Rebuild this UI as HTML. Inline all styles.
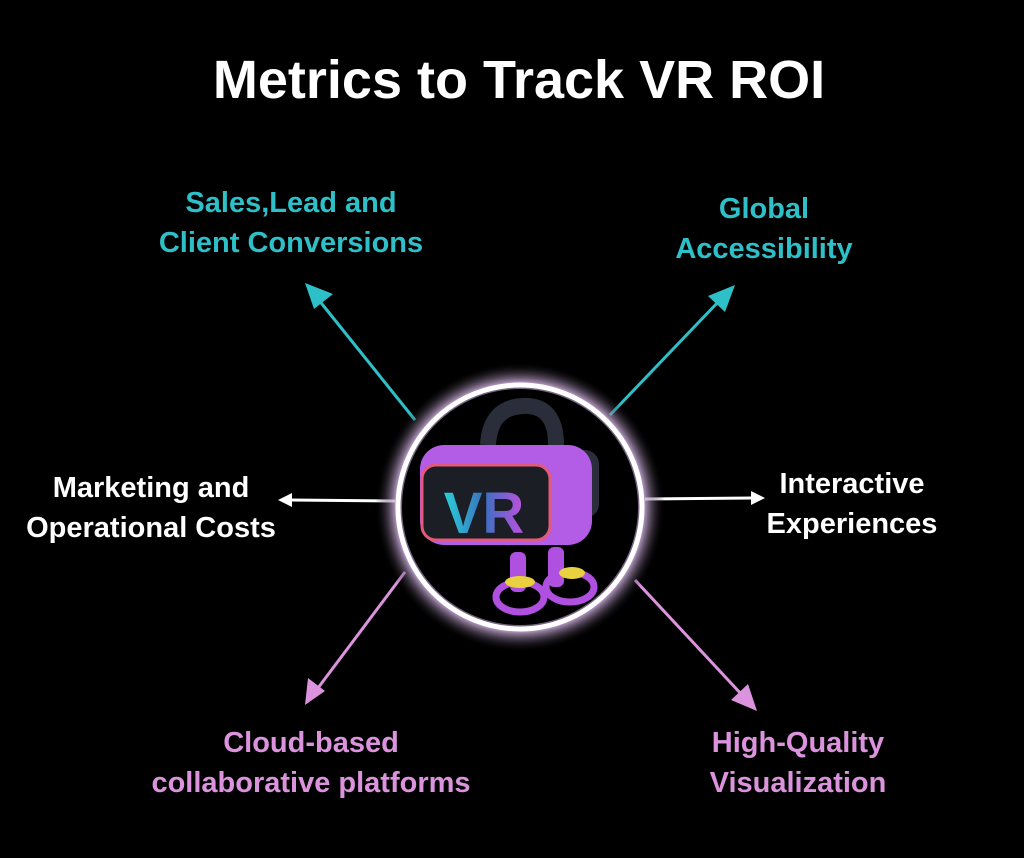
<!DOCTYPE html>
<html><head><style>
html,body{margin:0;padding:0;background:#000;}
body{width:1024px;height:858px;position:relative;overflow:hidden;font-family:"Liberation Sans",sans-serif;}
.t{position:absolute;font-weight:bold;text-align:center;font-size:29px;line-height:40px;white-space:nowrap;transform:translateX(-50%);}
.teal{color:#2ec0c8}.pink{color:#dc93de}.white{color:#fff}
</style></head><body>
<div class="t white" style="left:519px;top:48px;font-size:54px;line-height:64px;">Metrics to Track VR ROI</div>
<div class="t teal" style="left:291px;top:183px;">Sales,Lead and<br>Client Conversions</div>
<div class="t teal" style="left:764px;top:189px;">Global<br>Accessibility</div>
<div class="t white" style="left:151px;top:468px;">Marketing and<br>Operational Costs</div>
<div class="t white" style="left:852px;top:464px;">Interactive<br>Experiences</div>
<div class="t pink" style="left:311px;top:723px;">Cloud-based<br>collaborative platforms</div>
<div class="t pink" style="left:798px;top:723px;">High-Quality<br>Visualization</div>
<svg width="1024" height="858" style="position:absolute;left:0;top:0">
<defs>
<radialGradient id="g"><stop offset="0.75" stop-color="#000"/><stop offset="0.86" stop-color="#d8b8e8" stop-opacity="0.8"/><stop offset="1" stop-color="#000" stop-opacity="0"/></radialGradient>
<linearGradient id="vr" x1="0" y1="0" x2="1" y2="0"><stop offset="0" stop-color="#2ad0d8"/><stop offset="0.5" stop-color="#3a70c0"/><stop offset="1" stop-color="#c050e0"/></linearGradient>
</defs>
<g stroke-width="3">
<line x1="415" y1="420" x2="318" y2="299" stroke="#2ec0c8"/>
<polygon points="305,283 333,294 314,309" fill="#2ec0c8"/>
<line x1="610" y1="415" x2="720" y2="300" stroke="#2ec0c8"/>
<polygon points="735,285 725,312 708,296" fill="#2ec0c8"/>
<line x1="395" y1="501" x2="290" y2="500" stroke="#fff"/>
<polygon points="278,500 292,493 292,507" fill="#fff"/>
<line x1="645" y1="499" x2="752" y2="498" stroke="#fff"/>
<polygon points="765,498 751,491 751,505" fill="#fff"/>
<line x1="405" y1="572" x2="315" y2="692" stroke="#dc93de"/>
<polygon points="305,705 308,678 325,691" fill="#dc93de"/>
<line x1="635" y1="580" x2="743" y2="696" stroke="#dc93de"/>
<polygon points="757,711 731,700 748,684" fill="#dc93de"/>
</g>
<circle cx="520" cy="507" r="145" fill="url(#g)"/>
<circle cx="520" cy="507" r="122" fill="none" stroke="#fff" stroke-width="5"/>
<circle cx="520" cy="507" r="118" fill="#000"/>
<path d="M488 445 Q490 408 522 406 Q556 404 556 445" fill="none" stroke="#2a2d3a" stroke-width="16"/>
<rect x="565" y="450" width="34" height="68" rx="14" fill="#2a2d3a"/>
<rect x="420" y="445" width="172" height="100" rx="24" fill="#b35ce6"/>
<rect x="422" y="465" width="128" height="75" rx="14" fill="#1c1e26" stroke="#e25a7a" stroke-width="3"/>
<text x="484" y="533" text-anchor="middle" font-family="Liberation Sans" font-weight="bold" font-size="58" fill="url(#vr)">VR</text>
<rect x="510" y="552" width="16" height="40" rx="6" fill="#b050e0"/>
<rect x="548" y="547" width="16" height="40" rx="6" fill="#b050e0"/>
<ellipse cx="520" cy="597" rx="24" ry="15" fill="none" stroke="#b050e0" stroke-width="7"/>
<ellipse cx="570" cy="587" rx="24" ry="15" fill="none" stroke="#b050e0" stroke-width="7"/>
<ellipse cx="520" cy="582" rx="15" ry="6" fill="#e8d040"/>
<ellipse cx="572" cy="573" rx="13" ry="6" fill="#e8d040"/>
</svg>
</body></html>
